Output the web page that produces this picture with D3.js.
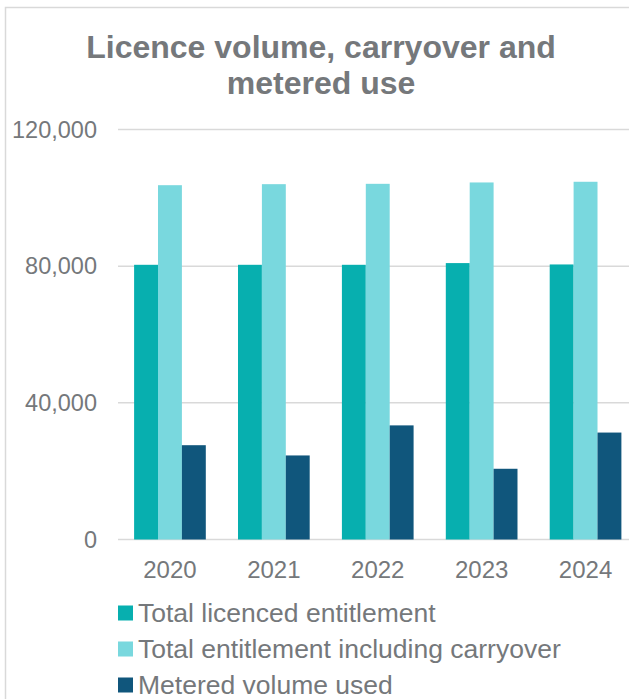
<!DOCTYPE html>
<html lang="en">
<head>
<meta charset="utf-8">
<title>Licence volume, carryover and metered use</title>
<script src="https://d3js.org/d3.v7.min.js"></script>
<style>
  body { margin: 0; background: #fff; }
  svg { display: block; font-family: "Liberation Sans", Arial, sans-serif; }
</style>
</head>
<body>
<script>
// data
var years = ["2020", "2021", "2022", "2023", "2024"];
var seriesNames = ["Total licenced entitlement", "Total entitlement including carryover", "Metered volume used"];
var licenced = [80400, 80400, 80400, 80900, 80500];
var withCarryover = [103700, 104000, 104100, 104500, 104700];
var metered = [27600, 24600, 33400, 20700, 31300];
var yTicks = [0, 40000, 80000, 120000];
var colors = ["#07AFAF", "#79D8DE", "#10567C"];

var w = 629, h = 699;
var textColor = "#75787B";

var svg = d3.select("body").append("svg")
  .attr("width", w)
  .attr("height", h);

// chart area border (only left/top visible)
svg.append("rect")
  .attr("x", 5.5).attr("y", 7.5)
  .attr("width", 700).attr("height", 800)
  .attr("fill", "none")
  .attr("stroke", "#D9D9D9")
  .attr("stroke-width", 1.5);

// title
svg.append("text")
  .attr("text-anchor", "middle")
  .attr("font-weight", "bold")
  .attr("font-size", "32px")
  .attr("fill", textColor)
  .selectAll("tspan")
  .data(["Licence volume, carryover and", "metered use"])
  .enter().append("tspan")
  .attr("x", 321)
  .attr("y", function(d, i) { return 58 + i * 36; })
  .text(function(d) { return d; });

var x0 = d3.scaleBand()
  .domain(years)
  .range([118, 637.5])
  .paddingInner(0.31)
  .paddingOuter(0.155);

var x1 = d3.scaleBand()
  .domain(d3.range(3))
  .range([0, x0.bandwidth()]);

var y = d3.scaleLinear()
  .domain([0, 120000])
  .range([539.5, 129.5]);

// gridlines
svg.append("g")
  .selectAll("line")
  .data(yTicks)
  .enter().append("line")
  .attr("x1", 118).attr("x2", w)
  .attr("y1", function(d) { return y(d); })
  .attr("y2", function(d) { return y(d); })
  .attr("stroke", "#D9D9D9")
  .attr("stroke-width", 1.5);

// y axis labels
var yAxis = d3.axisLeft(y)
  .tickValues(yTicks)
  .tickSize(0)
  .tickPadding(0)
  .tickFormat(d3.format(","));

svg.append("g")
  .attr("transform", "translate(97,0)")
  .call(yAxis)
  .call(function(g) { g.select(".domain").remove(); })
  .selectAll("text")
  .attr("font-size", "23.5px")
  .attr("font-family", "Liberation Sans, Arial, sans-serif")
  .attr("fill", textColor);

// bars
var table = years.map(function(yr, i) {
  return { year: yr, values: [licenced[i], withCarryover[i], metered[i]] };
});

var groups = svg.append("g")
  .selectAll("g")
  .data(table)
  .enter().append("g")
  .attr("transform", function(d) { return "translate(" + x0(d.year) + ",0)"; });

groups.selectAll("rect")
  .data(function(d) { return d.values; })
  .enter().append("rect")
  .attr("x", function(d, i) { return x1(i); })
  .attr("y", function(d) { return y(d); })
  .attr("width", x1.bandwidth())
  .attr("height", function(d) { return y(0) - y(d); })
  .attr("fill", function(d, i) { return colors[i]; });

// x axis labels
var xAxis = d3.axisBottom(x0).tickSize(0).tickPadding(0);
svg.append("g")
  .attr("transform", "translate(0,578)")
  .call(xAxis)
  .call(function(g) { g.select(".domain").remove(); })
  .selectAll("text")
  .attr("dy", 0)
  .attr("font-size", "24px")
  .attr("font-family", "Liberation Sans, Arial, sans-serif")
  .attr("fill", textColor);

// legend
var legend = svg.append("g")
  .selectAll("g")
  .data(seriesNames)
  .enter().append("g")
  .attr("transform", function(d, i) { return "translate(118," + (613 + i * 36) + ")"; });

legend.append("rect")
  .attr("x", 0).attr("y", -7.5)
  .attr("width", 15).attr("height", 15)
  .attr("fill", function(d, i) { return colors[i]; });

legend.append("text")
  .attr("x", 20)
  .attr("y", 9)
  .attr("font-size", "26.5px")
  .attr("fill", textColor)
  .text(function(d) { return d; });
</script>
</body>
</html>
